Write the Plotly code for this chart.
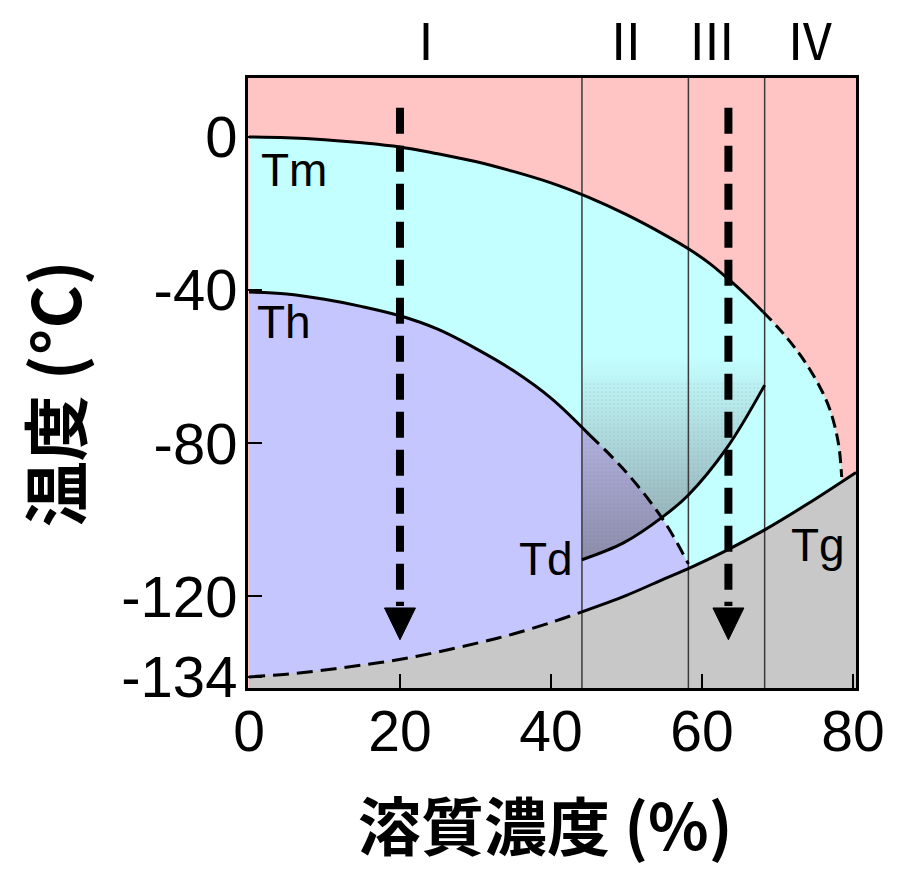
import plotly.graph_objects as go

# ---- data ----
tm_x = [0, 5, 10, 15, 20, 25, 30, 35, 40, 45, 50, 55, 58.2, 61, 64, 66, 68.1, 70, 72, 74, 76, 77.1, 78.1, 78.5]
tm_y = [0, -0.2, -0.7, -1.5, -2.6, -4.4, -6.4, -9.0, -12.0, -15.8, -20.3, -25.5, -29.2, -33.0, -38.0, -41.6, -45.7, -49.6, -54.3, -59.8, -66.8, -72.1, -80.4, -88.8]
tm_split = 16

th_x = [0, 5, 10, 15, 20, 25, 30, 35, 40, 45.1, 50, 55, 58.2]
th_y = [-40.5, -41.0, -42.4, -44.3, -46.7, -50.2, -55.2, -61.0, -68.2, -77.8, -87.6, -100.4, -111.5]
th_split = 9

tg_x = [0, 5, 10, 15, 20.1, 25, 30.4, 35, 40, 44.1, 50, 55, 58.4, 63, 68.3, 74, 80.4]
tg_y = [-141, -140.3, -139.2, -137.9, -136.4, -134.5, -132.1, -129.8, -126.8, -124.0, -119.7, -115.4, -112.5, -108.2, -102.6, -95.8, -87.6]
tg_split = 9

td_x = [44.1, 49.6, 54.8, 58.2, 63.3, 68.3]
td_y = [-110.4, -106.0, -99.2, -93.5, -81.2, -64.8]
shade_top = -57
dot_top = -64

region_bounds = [44.1, 58.2, 68.3]
region_labels = ["Ⅰ", "Ⅱ", "Ⅲ", "Ⅳ"]
region_label_x = [23.4, 49.9, 61.3, 74.3]

arrow_x = [20, 63.5]
arrow_top = 7.6
arrow_head_top = -123.0
arrow_tip = -131.3

curve_labels = ["Tm", "Th", "Td", "Tg"]
curve_label_x = [6.0, 4.7, 39.3, 75.3]
curve_label_y = [-8.5, -48.3, -110.3, -106.5]

x_ticks = [0, 20, 40, 60, 80]
y_tickvals = [0, -40, -80, -120, -141]
y_ticktext = ["0", "-40", "-80", "-120", "-134"]

X_RANGE = [-0.13, 80.4]
Y_RANGE = [-143.9, 15.4]
BOTTOM = -150

PINK = "#FFC4C4"
CYAN = "#C4FFFF"
LAV = "#C6C6FF"
GRAY = "#C8C8C8"

fig = go.Figure()


def baseline(x0, x1, y):
    fig.add_trace(go.Scatter(x=[x0, x1], y=[y, y], mode="lines",
                             line=dict(width=0), hoverinfo="skip", showlegend=False))


def filled(xs, ys, color):
    fig.add_trace(go.Scatter(x=xs, y=ys, mode="lines", fill="tonexty", fillcolor=color,
                             line=dict(width=0, shape="spline"), hoverinfo="skip",
                             showlegend=False))


# region fills
baseline(tm_x[0], tm_x[-1], BOTTOM)
filled(tm_x, tm_y, CYAN)
baseline(th_x[0], th_x[-1], BOTTOM)
filled(th_x, th_y, LAV)

# shaded (gradient) region above Td
baseline(td_x[0], td_x[-1], shade_top)
fig.add_trace(go.Scatter(
    x=td_x, y=td_y, mode="lines", fill="tonexty",
    fillgradient=dict(type="vertical", start=td_y[0], stop=shade_top,
                      colorscale=[[0, "rgba(105,105,118,0.62)"], [1, "rgba(105,105,118,0)"]]),
    line=dict(width=0, shape="spline"), hoverinfo="skip", showlegend=False))
baseline(td_x[0], td_x[-1], dot_top)
fig.add_trace(go.Scatter(
    x=td_x, y=td_y, mode="lines", fill="tonexty", fillcolor="rgba(0,0,0,0)",
    fillpattern=dict(shape=".", size=4, solidity=0.3, fgcolor="rgba(70,70,90,0.12)",
                     bgcolor="rgba(0,0,0,0)"),
    line=dict(width=0, shape="spline"), hoverinfo="skip", showlegend=False))

baseline(tg_x[0], tg_x[-1], BOTTOM)
filled(tg_x, tg_y, GRAY)

# region boundary lines
for xb in region_bounds:
    fig.add_trace(go.Scatter(x=[xb, xb], y=[Y_RANGE[1], Y_RANGE[0]], mode="lines",
                             line=dict(color="#3a3a3a", width=1.5), hoverinfo="skip",
                             showlegend=False))


def curve(xs, ys, dash):
    fig.add_trace(go.Scatter(x=xs, y=ys, mode="lines",
                             line=dict(color="black", width=3, shape="spline", dash=dash),
                             hoverinfo="skip", showlegend=False))


curve(tm_x[:tm_split + 1], tm_y[:tm_split + 1], "solid")
curve(tm_x[tm_split:], tm_y[tm_split:], "12px,6px")
curve(th_x[:th_split + 1], th_y[:th_split + 1], "solid")
curve(th_x[th_split:], th_y[th_split:], "13px,7px")
curve(tg_x[:tg_split + 1], tg_y[:tg_split + 1], "16px,8px")
curve(tg_x[tg_split:], tg_y[tg_split:], "solid")
curve(td_x, td_y, "solid")

# dashed arrows
head_half = 2.05
for ax in arrow_x:
    fig.add_trace(go.Scatter(x=[ax, ax], y=[arrow_top, arrow_head_top + 0.5], mode="lines",
                             line=dict(color="black", width=8, dash="26px,12px"),
                             hoverinfo="skip", showlegend=False))
    fig.add_trace(go.Scatter(x=[ax - head_half, ax + head_half, ax, ax - head_half],
                             y=[arrow_head_top, arrow_head_top, arrow_tip, arrow_head_top],
                             mode="lines", fill="toself", fillcolor="black",
                             line=dict(color="black", width=1), hoverinfo="skip",
                             showlegend=False))

annotations = []
for t, lx, ly in zip(curve_labels, curve_label_x, curve_label_y):
    annotations.append(dict(x=lx, y=ly, xref="x", yref="y", text=t, showarrow=False,
                            font=dict(family="Liberation Sans, Arial", size=46, color="black"),
                            xanchor="center", yanchor="middle"))
for t, lx in zip(region_labels, region_label_x):
    annotations.append(dict(x=lx, y=1.066, xref="x", yref="paper", text=t, showarrow=False,
                            font=dict(family="Noto Sans CJK JP", size=50, color="black"),
                            xanchor="center", yanchor="middle"))
annotations.append(dict(x=0.49, y=-0.299, xref="paper", yref="paper", text="<b>溶質濃度 (%)</b>",
                        showarrow=False, font=dict(family="Noto Sans CJK JP", size=63, color="black"),
                        xanchor="center", yanchor="bottom"))
annotations.append(dict(x=-0.322, y=0.482, xref="paper", yref="paper", text="<b>温度 (°C)</b>",
                        showarrow=False, textangle=-90,
                        font=dict(family="Noto Sans CJK JP", size=66, color="black"),
                        xanchor="center", yanchor="middle"))

fig.update_layout(
    width=897, height=872,
    margin=dict(l=248, r=35, t=78, b=184),
    paper_bgcolor="white", plot_bgcolor=PINK,
    showlegend=False,
    annotations=annotations,
    xaxis=dict(range=X_RANGE, tickvals=x_ticks, ticks="inside", ticklen=14, tickwidth=2,
               tickcolor="black", showgrid=False, zeroline=False, showline=True,
               linecolor="black", linewidth=3, mirror=True, ticklabelstandoff=-8,
               tickfont=dict(family="Liberation Sans, Arial", size=57, color="black")),
    yaxis=dict(range=Y_RANGE, tickvals=y_tickvals, ticktext=y_ticktext, ticks="inside",
               ticklen=14, tickwidth=2, tickcolor="black", showgrid=False, zeroline=False,
               showline=True, linecolor="black", linewidth=3, mirror=True,
               ticklabelstandoff=-4,
               tickfont=dict(family="Liberation Sans, Arial", size=58, color="black")),
)

fig.write_html("out.html", config={"displayModeBar": False},
               post_script="document.body.style.margin='0px';document.body.style.overflow='hidden';")
